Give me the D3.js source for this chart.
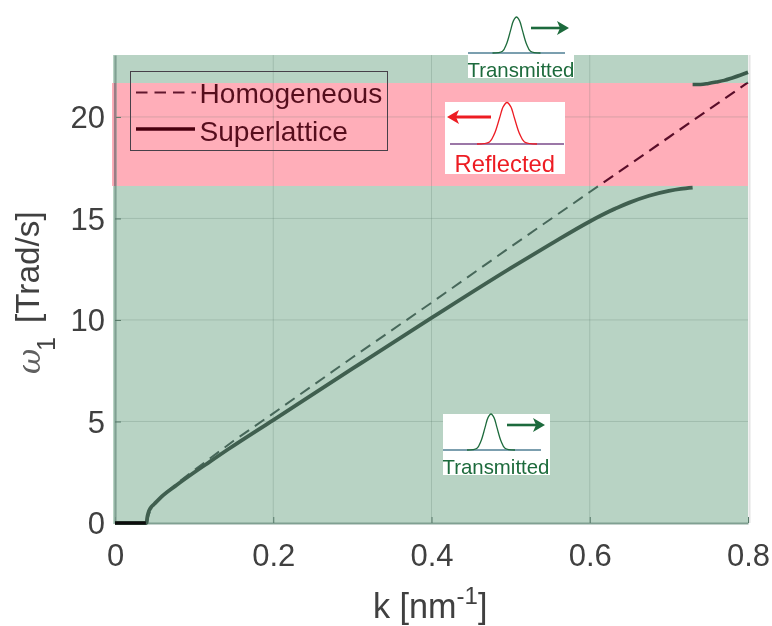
<!DOCTYPE html>
<html>
<head>
<meta charset="utf-8">
<script src="https://cdn.jsdelivr.net/npm/d3@7"></script>
<style>
html,body{margin:0;padding:0;background:#fff;}
svg{display:block;font-family:"Liberation Sans",Arial,sans-serif;}
</style>
</head>
<body>
<svg id="c" width="772" height="626"></svg>
<script>
const xTicks = [0, 0.2, 0.4, 0.6, 0.8];
const xTickLabels = ["0", "0.2", "0.4", "0.6", "0.8"];
const yTicks = [0, 5, 10, 15, 20];
const homogeneousK = [0.04, 0.043, 0.05, 0.06, 0.08, 0.1, 0.15, 0.2, 0.3, 0.4, 0.5, 0.6, 0.7, 0.8];
const homogeneousW = [0, 0.45, 0.95, 1.35, 2.0, 2.6, 4.05, 5.4, 8.15, 10.85, 13.6, 16.3, 19.0, 21.7];
const lowerK = [0, 0.039, 0.04, 0.0405, 0.042, 0.045, 0.05, 0.057, 0.078, 0.099, 0.12, 0.143, 0.2, 0.3, 0.4, 0.5, 0.55, 0.6, 0.625, 0.65, 0.675, 0.7, 0.715, 0.73];
const lowerW = [0, 0, 0, 0.2, 0.48, 0.74, 0.95, 1.23, 1.87, 2.46, 3.02, 3.63, 5.07, 7.6, 10.1, 12.55, 13.72, 14.85, 15.35, 15.78, 16.12, 16.36, 16.46, 16.52];
const upperK = [0.73, 0.74, 0.75, 0.76, 0.77, 0.78, 0.79, 0.8];
const upperW = [21.6, 21.6, 21.65, 21.72, 21.8, 21.92, 22.05, 22.2];
const reflectBand = [16.6, 21.67];
const legendNames = ["Homogeneous", "Superlattice"];
const pulseX = [-24, -14, -10, -6, -3, 0, 3, 6, 10, 14, 24];
const pulseY = [0, 0.05, 0.25, 0.62, 0.9, 1, 0.9, 0.62, 0.25, 0.05, 0];

const svg = d3.select("#c");
const x = d3.scaleLinear().domain([0, 0.8]).range([115, 748]);
const y = d3.scaleLinear().domain([0, 23.05]).range([523, 55]);
const TEXT = "#404040";

const defs = svg.append("defs");
defs.append("clipPath").attr("id", "pinkClip").append("rect")
  .attr("x", 100).attr("width", 660).attr("y", y(reflectBand[1])).attr("height", y(reflectBand[0]) - y(reflectBand[1]));
defs.append("clipPath").attr("id", "greenClip").append("path")
  .attr("d", `M100,0H760V${y(reflectBand[1])}H100ZM100,${y(reflectBand[0])}H760V600H100Z`);
defs.append("filter").attr("id", "soft").attr("filterUnits", "userSpaceOnUse")
  .attr("x", 0).attr("y", 0).attr("width", 772).attr("height", 626)
  .append("feGaussianBlur").attr("stdDeviation", 0.4);

const root = svg.append("g").attr("filter", "url(#soft)");

// right edge of the axes box
root.append("line").attr("x1", 749.5).attr("x2", 749.5).attr("y1", 55).attr("y2", 523)
  .attr("stroke", "#e4e4e4").attr("stroke-width", 2);

// transmission / reflection bands
root.append("rect").attr("x", 113).attr("width", x(0.8) - 113).attr("y", 55).attr("height", 469)
  .attr("fill", "#b8d3c4");
root.append("rect").attr("x", 112).attr("width", x(0.8) - 112)
  .attr("y", y(reflectBand[1])).attr("height", y(reflectBand[0]) - y(reflectBand[1]))
  .attr("fill", "#ffaeb9");

// grid, seen faintly through the bands
const g = root.append("g");
g.selectAll(".gx").data(xTicks.slice(1, -1)).join("line")
  .attr("x1", d => x(d)).attr("x2", d => x(d)).attr("y1", y(0)).attr("y2", y(23.05))
  .attr("stroke", "#4f6f60").attr("stroke-width", 1).attr("opacity", .22);
g.selectAll(".gy").data(yTicks.slice(1)).join("line")
  .attr("x1", x(0)).attr("x2", x(0.8)).attr("y1", d => y(d)).attr("y2", d => y(d))
  .attr("stroke", "#4f6f60").attr("stroke-width", 1).attr("opacity", .22);

// axes
const ax = root.append("g").attr("transform", `translate(0,${y(0)})`)
  .call(d3.axisBottom(x).tickValues(xTicks).tickFormat((d, i) => xTickLabels[i]).tickSizeInner(-6).tickSizeOuter(0).tickPadding(21));
const ay = root.append("g").attr("transform", `translate(${x(0)},0)`)
  .call(d3.axisLeft(y).tickValues(yTicks).tickFormat(d3.format("d")).tickSizeInner(-6).tickSizeOuter(0).tickPadding(10));
[ax, ay].forEach(a => {
  a.select(".domain").attr("stroke", "#76968a").attr("stroke-width", 2.2).attr("fill", "none").attr("stroke-opacity", .85);
  a.selectAll(".tick line").attr("stroke", "#567868").attr("stroke-width", 1);
  a.selectAll("text").attr("font-size", 31).attr("fill", TEXT);
});
ax.selectAll("text").attr("dy", "0.71em");
ay.selectAll("text").attr("dy", "0.35em");
root.append("line").attr("x1", x(0)).attr("x2", x(0))
  .attr("y1", y(reflectBand[1])).attr("y2", y(reflectBand[0]))
  .attr("stroke", "#9b7b86").attr("stroke-width", 2.2);

const line = d3.line().x(d => x(d[0])).y(d => y(d[1]));
const smooth = d3.line().x(d => x(d[0])).y(d => y(d[1])).curve(d3.curveMonotoneX);
const homog = d3.zip(homogeneousK, homogeneousW);
const lowerLine = d3.zip(lowerK, lowerW);

// dispersion curves
const curves = root.append("g");
curves.append("path").attr("d", line(homog)).attr("fill", "none")
  .attr("stroke", "#47675a").attr("stroke-width", 2).attr("stroke-dasharray", "11.5 7")
  .attr("clip-path", "url(#greenClip)");
curves.append("path").attr("d", line(homog)).attr("fill", "none")
  .attr("stroke", "#5a1029").attr("stroke-width", 2.2).attr("stroke-dasharray", "11.5 7")
  .attr("clip-path", "url(#pinkClip)");
curves.append("path").attr("d", smooth(lowerLine))
  .attr("fill", "none").attr("stroke", "#3f5f50").attr("stroke-width", 3.8);
curves.append("path").attr("d", line(lowerLine.slice(0, 2))).attr("fill", "none")
  .attr("stroke", "#0c0c0c").attr("stroke-width", 3.2);
curves.append("path").attr("d", smooth(d3.zip(upperK, upperW)))
  .attr("fill", "none").attr("stroke", "#3a5a4c").attr("stroke-width", 3.6);

// legend
const leg = root.append("g");
leg.append("rect").attr("x", 130.5).attr("y", 71.5).attr("width", 257).attr("height", 79)
  .attr("fill", "none").attr("stroke", "#47404a").attr("stroke-width", 1);
leg.append("line").attr("x1", 136).attr("x2", 196).attr("y1", 92.5).attr("y2", 92.5)
  .attr("stroke", "#62182f").attr("stroke-width", 1.8).attr("stroke-dasharray", "11.5 7");
leg.append("line").attr("x1", 136).attr("x2", 195).attr("y1", 129).attr("y2", 129)
  .attr("stroke", "#4a0010").attr("stroke-width", 3.4);
leg.selectAll("text").data(legendNames).join("text")
  .attr("x", 199.5).attr("y", (d, i) => 103 + i * 38).attr("font-size", 28.1).attr("fill", "#56101f").text(d => d);

// wave packet insets
function inset(o) {
  const s = root.append("g");
  s.append("rect").attr("x", o.rx).attr("y", o.ry).attr("width", o.rw).attr("height", o.rh).attr("fill", "#fff");
  const px = d3.scaleLinear().domain([-24, 24]).range([o.peak - o.half, o.peak + o.half]);
  const py = d3.scaleLinear().domain([0, 1]).range([o.base, o.top]);
  s.append("line").attr("x1", o.bx1).attr("x2", o.bx2).attr("y1", o.base).attr("y2", o.base)
    .attr("stroke", o.baseColor).attr("stroke-width", 1.3);
  s.append("path").attr("fill", "none").attr("stroke", o.color).attr("stroke-width", 1.3)
    .attr("d", d3.line().x(d => px(d)).y((d, i) => py(pulseY[i])).curve(d3.curveCatmullRom)(pulseX));
  s.append("line").attr("x1", o.a1).attr("x2", o.a2 - o.dir * 8).attr("y1", o.ay).attr("y2", o.ay)
    .attr("stroke", o.color).attr("stroke-width", o.aw);
  s.append("path").attr("fill", o.color)
    .attr("d", `M${o.a2},${o.ay}L${o.a2 - o.dir * 12},${o.ay - 7}L${o.a2 - o.dir * 9},${o.ay}L${o.a2 - o.dir * 12},${o.ay + 7}Z`);
  s.append("text").attr("x", o.tx).attr("y", o.ty).attr("font-size", o.fs).attr("fill", o.color).text(o.label);
}
inset({rx:468, ry:54, rw:106, rh:24, peak:516.5, half:24, base:53, top:17, bx1:468, bx2:565, baseColor:"#4f7f95", color:"#1e6b3c",
  a1:531, a2:569, ay:28, dir:1, aw:2.6, tx:467.5, ty:76.5, fs:20.4, label:"Transmitted"});
inset({rx:445, ry:102, rw:120, rh:72, peak:507, half:30, base:144, top:102.5, bx1:450, bx2:564, baseColor:"#7a4a8a", color:"#ed1c24",
  a1:491, a2:447, ay:117, dir:-1, aw:2.8, tx:454.5, ty:171.5, fs:23.8, label:"Reflected"});
inset({rx:443, ry:414, rw:107, rh:61, peak:491, half:24, base:450, top:414, bx1:443, bx2:541, baseColor:"#4f7f95", color:"#1e6b3c",
  a1:507, a2:545, ay:425, dir:1, aw:2.6, tx:442.5, ty:474, fs:20.4, label:"Transmitted"});

// axis titles
const xl = root.append("text").attr("x", 373).attr("y", 618).attr("font-size", 34.2).attr("fill", TEXT);
xl.append("tspan").text("k [nm");
xl.append("tspan").attr("font-size", 24).attr("dy", -14).text("-1");
xl.append("tspan").attr("dy", 14).text("]");
root.append("text").attr("transform", "translate(40,374) rotate(-90)").attr("font-family", "DejaVu Serif")
  .attr("font-style", "italic").attr("font-size", 31).attr("fill", "#606060").text("ω");
root.append("text").attr("transform", "translate(55,351) rotate(-90)").attr("font-size", 25).attr("fill", TEXT).text("1");
root.append("text").attr("transform", "translate(39,323) rotate(-90)").attr("font-size", 33.3).attr("fill", TEXT).text("[Trad/s]");
</script>
</body>
</html>
